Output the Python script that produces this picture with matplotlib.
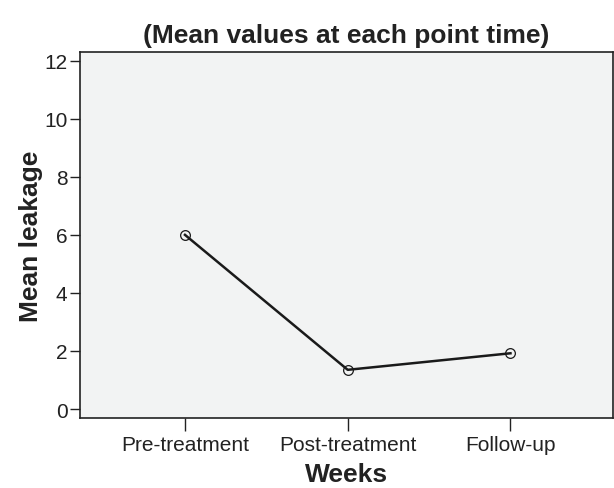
import matplotlib
matplotlib.use('Agg')
from matplotlib import pyplot as plt

# Data
categories = ['Pre-treatment', 'Post-treatment', 'Follow-up']
mean_leakage = [6.0, 1.35, 1.92]
y_ticks = [0, 2, 4, 6, 8, 10, 12]

plt.rcParams['font.family'] = ['Liberation Sans', 'DejaVu Sans']

fig = plt.figure(figsize=(6.14, 4.89), dpi=100)
ax = fig.add_axes([80 / 614, 1 - 419 / 489, 533 / 614, 366 / 489])
ax.set_facecolor('#f2f3f3')

x = list(range(len(categories)))
ax.plot(x, mean_leakage, color='#1a1a1a', linewidth=1.8, marker='o',
        markersize=7, markerfacecolor='none', markeredgecolor='#1a1a1a',
        markeredgewidth=0.9)

ax.set_xlim(-0.645, 2.63)
ax.set_ylim(-0.31, 12.3)
ax.set_xticks(x)
ax.set_xticklabels(categories, fontsize=15, color='#222222')
ax.set_yticks(y_ticks)
ax.tick_params(axis='y', labelsize=15, labelcolor='#222222', length=7, width=1,
               color='#222222', pad=2)
ax.tick_params(axis='x', length=9, width=1, color='#222222', pad=3)

for side in ['left', 'bottom', 'top', 'right']:
    ax.spines[side].set_linewidth(1.2)
    ax.spines[side].set_color('#222222')

ax.set_xlabel('Weeks', fontsize=19, fontweight='bold', color='#222222', labelpad=6)
ax.set_ylabel('Mean leakage', fontsize=19, fontweight='bold', color='#222222', labelpad=1)
ax.set_title('(Mean values at each point time)', fontsize=19, fontweight='bold',
             color='#222222', pad=7)

fig.savefig('out.png', dpi=100)
